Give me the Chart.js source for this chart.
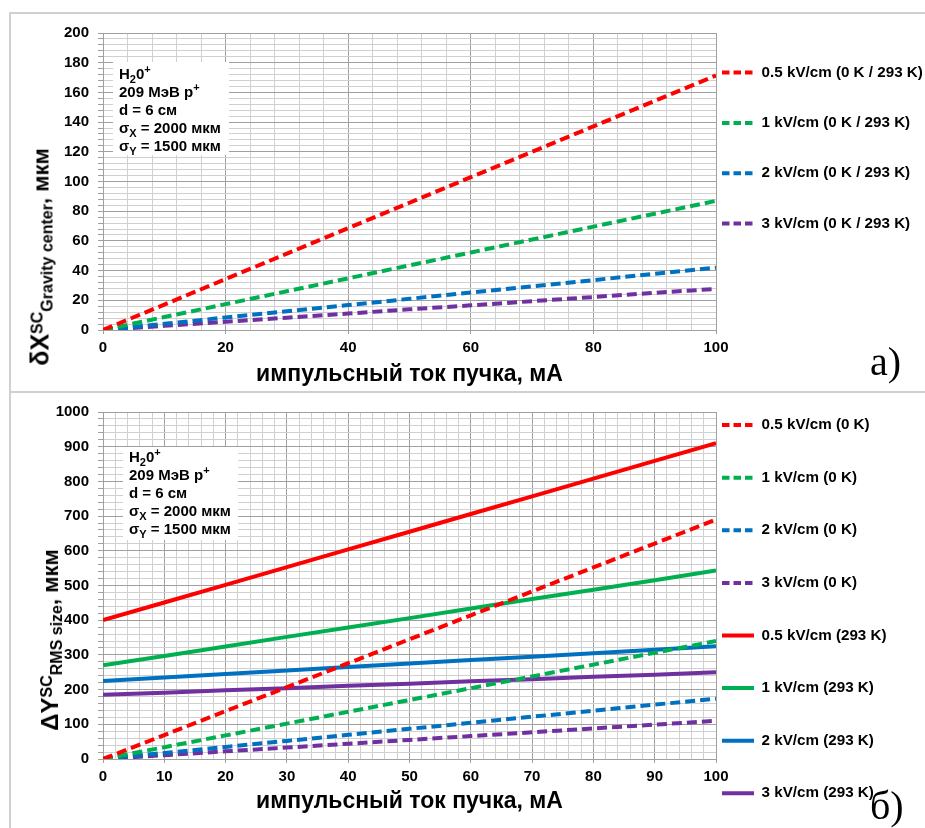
<!DOCTYPE html>
<html>
<head>
<meta charset="utf-8">
<script src="https://cdn.jsdelivr.net/npm/chart.js@4.4.1/dist/chart.umd.min.js"></script>
<style>
body { margin:0; width:925px; height:828px; background:#fff; position:relative; overflow:hidden; font-family:"Liberation Sans", Arial, sans-serif; }
#p1 { position:absolute; left:9px; top:12px; width:930px; height:377px; border-left:2px solid #d0d0d0; border-top:2px solid #d0d0d0; border-bottom:2px solid #d0d0d0; }
#p2 { position:absolute; left:9px; top:393px; width:930px; height:440px; border-left:2px solid #d0d0d0; }
canvas { position:absolute; left:12px; }
.note { position:absolute; background:#fff; font-weight:bold; font-size:15px; line-height:18px; color:#000; box-sizing:border-box; padding-left:6px; white-space:nowrap; }
.note sub, .note sup { font-size:11px; line-height:0; }
.ytitle { position:absolute; white-space:nowrap; font-weight:bold; color:#000; transform:translate(-50%,-50%) rotate(-90deg); }
.ytitle sub, .ytitle sup { font-size:16px; line-height:0; }
.tag { position:absolute; font-family:"Liberation Serif", "Times New Roman", serif; font-size:40px; color:#000; }
</style>
</head>
<body>
<div id="p1"></div>
<div id="p2"></div>
<canvas id="chartTop" width="913" height="375" style="top:15px"></canvas>
<canvas id="chartBottom" width="913" height="434" style="top:394px"></canvas>

<div class="note" style="left:113px;top:62px;width:116px;height:93px;padding-top:3px">
H<sub>2</sub>0<sup>+</sup><br>209 МэВ p<sup>+</sup><br>d = 6 см<br>σ<sub>X</sub> = 2000 мкм<br>σ<sub>Y</sub> = 1500 мкм
</div>
<div class="note" style="left:123px;top:447px;width:115px;height:93px;padding-top:1px">
H<sub>2</sub>0<sup>+</sup><br>209 МэВ p<sup>+</sup><br>d = 6 см<br>σ<sub>X</sub> = 2000 мкм<br>σ<sub>Y</sub> = 1500 мкм
</div>

<div class="ytitle" style="left:40px;top:257px"><span style="font-size:25px">δX</span><sup>SC</sup><sub>Gravity center</sub><span style="font-size:22px">, мкм</span></div>
<div class="ytitle" style="left:50px;top:640px"><span style="font-size:24px">ΔY</span><sup>SC</sup><sub>RMS size</sub><span style="font-size:22px">, мкм</span></div>

<div class="tag" style="left:870px;top:338px">a)</div>
<div class="tag" style="left:870px;top:782px">б)</div>

<script>
// beam current, mA
const currents = [0, 10, 20, 30, 40, 50, 60, 70, 80, 90, 100];

// a) gravity center shift, mkm (0 K / 293 K)
const dx05 = [0, 17.1, 34.3, 51.4, 68.6, 85.7, 102.9, 120, 137.1, 154.3, 171.4];
const dx1 = [0, 8.7, 17.4, 26.1, 34.8, 43.5, 52.2, 60.9, 69.6, 78.3, 87];
const dx2 = [0, 4.2, 8.4, 12.6, 16.8, 21, 25.2, 29.4, 33.6, 37.8, 42];
const dx3 = [0, 2.8, 5.5, 8.3, 11.1, 13.9, 16.6, 19.4, 22.2, 25, 27.7];

// б) RMS size growth, mkm
const dy05cold = [0, 69, 138, 207, 276, 345, 414, 483, 552, 621, 690];
const dy1cold = [0, 34, 68, 102, 136, 170, 204, 238, 272, 306, 340];
const dy2cold = [0, 17.4, 34.8, 52.2, 69.6, 87, 104.4, 121.8, 139.2, 156.6, 174];
const dy3cold = [0, 11, 22, 33, 44, 55, 66, 77, 88, 99, 110];
const dy05warm = [400, 451, 502, 553, 604, 655, 706, 757, 808, 859, 910];
const dy1warm = [270, 297, 324, 352, 379, 406, 434, 461, 488, 515, 543];
const dy2warm = [225, 235, 245, 255, 265, 275, 285, 295, 305, 315, 325];
const dy3warm = [185, 191, 198, 204, 211, 217, 224, 230, 237, 243, 250];

const labelsTop = ["0.5 kV/cm (0 K / 293 K)", "1 kV/cm (0 K / 293 K)", "2 kV/cm (0 K / 293 K)", "3 kV/cm (0 K / 293 K)"];
const labelsBottom = ["0.5 kV/cm (0 K)", "1 kV/cm (0 K)", "2 kV/cm (0 K)", "3 kV/cm (0 K)",
                      "0.5 kV/cm (293 K)", "1 kV/cm (293 K)", "2 kV/cm (293 K)", "3 kV/cm (293 K)"];
const colors = ["#ff0000", "#00b050", "#0070c0", "#7030a0"];

const FONT = "'Liberation Sans', Arial, sans-serif";
const MAJOR = "#a0a0a0";
const MINOR = "#d0d0d0";
const DASH = [10, 5];

Chart.defaults.font.family = FONT;
Chart.defaults.color = "#000";

function pts(ys) {
    return currents.map((x, i) => ({ x: x, y: ys[i] }));
}

function line(label, ys, color, dashed) {
    return {
        label: label,
        data: pts(ys),
        borderColor: color,
        backgroundColor: color,
        borderWidth: 4,
        borderDash: dashed ? DASH : [],
        pointRadius: 0,
        tension: 0,
        fill: false
    };
}

// force the legend column to a fixed width so the plot ends where it should
function legendWidth(w) {
    return {
        id: "legendWidth",
        beforeLayout(chart) {
            const lg = chart.legend;
            if (lg && !lg._fixed) {
                const fit = lg.fit.bind(lg);
                lg.fit = function () { fit(); this.width = w; };
                lg._fixed = true;
            }
        }
    };
}

function legendOpts(titleGap, rowHeight) {
    return {
        position: "right",
        align: "start",
        title: { display: true, text: "", padding: { top: 0, bottom: titleGap }, font: { size: 10, lineHeight: "0px" } },
        labels: {
            usePointStyle: true,
            pointStyle: "line",
            pointStyleWidth: 32,
            padding: 6,
            color: "#000",
            font: { size: 15.2, weight: "bold", lineHeight: rowHeight + "px" },
            generateLabels(chart) {
                return Chart.defaults.plugins.legend.labels.generateLabels(chart).map(item => {
                    const ds = chart.data.datasets[item.datasetIndex];
                    item.text = [item.text];
                    item.lineDash = ds.borderDash.length ? [7.5, 4] : [];
                    item.lineWidth = 4;
                    item.strokeStyle = ds.borderColor;
                    item.pointStyle = "line";
                    return item;
                });
            }
        }
    };
}

function axes(xStep, xMajor, yMax, yStep, yMajor, xHeight, titleBottom) {
    return {
        x: {
            type: "linear",
            min: 0, max: 100,
            afterFit: s => { s.height = xHeight; },
            ticks: {
                stepSize: xStep, autoSkip: false, maxRotation: 0, padding: 5,
                font: { size: 15, weight: "bold" },
                callback: v => (v % xMajor === 0 ? v : "")
            },
            grid: {
                color: c => (c.tick && c.tick.value % xMajor === 0 ? MAJOR : MINOR),
                tickColor: c => (c.tick && c.tick.value % xMajor === 0 ? MAJOR : "rgba(0,0,0,0)"),
                tickLength: 4
            },
            border: { color: MAJOR },
            title: {
                display: true,
                text: "импульсный ток пучка, мА",
                font: { size: 23, weight: "bold", lineHeight: 1.2 },
                padding: { top: 0, bottom: titleBottom }
            }
        },
        y: {
            min: 0, max: yMax,
            afterFit: s => { s.width = 91; },
            ticks: {
                stepSize: yStep, autoSkip: false, padding: 9,
                font: { size: 15, weight: "bold" },
                callback: v => (v % yMajor === 0 ? v : "")
            },
            grid: {
                color: c => (c.tick && c.tick.value % yMajor === 0 ? MAJOR : MINOR),
                tickColor: MAJOR,
                tickLength: 5
            },
            border: { color: MAJOR }
        }
    };
}

new Chart(document.getElementById("chartTop"), {
    type: "line",
    data: {
        datasets: [
            line(labelsTop[0], dx05, colors[0], true),
            line(labelsTop[1], dx1, colors[1], true),
            line(labelsTop[2], dx2, colors[2], true),
            line(labelsTop[3], dx3, colors[3], true)
        ]
    },
    options: {
        responsive: false,
        animation: false,
        layout: { padding: { top: 13, left: 0, right: 0, bottom: 0 } },
        scales: axes(4, 20, 200, 4, 20, 60, 2),
        plugins: {
            legend: legendOpts(31, 44.3),
            tooltip: { enabled: false }
        }
    },
    plugins: [legendWidth(209)]
});

new Chart(document.getElementById("chartBottom"), {
    type: "line",
    data: {
        datasets: [
            line(labelsBottom[0], dy05cold, colors[0], true),
            line(labelsBottom[1], dy1cold, colors[1], true),
            line(labelsBottom[2], dy2cold, colors[2], true),
            line(labelsBottom[3], dy3cold, colors[3], true),
            line(labelsBottom[4], dy05warm, colors[0], false),
            line(labelsBottom[5], dy1warm, colors[1], false),
            line(labelsBottom[6], dy2warm, colors[2], false),
            line(labelsBottom[7], dy3warm, colors[3], false)
        ]
    },
    options: {
        responsive: false,
        animation: false,
        layout: { padding: { top: 12.5, left: 0, right: 0, bottom: 0 } },
        scales: axes(2, 10, 1000, 20, 100, 69, 13),
        plugins: {
            legend: legendOpts(5, 46.6),
            tooltip: { enabled: false }
        }
    },
    plugins: [legendWidth(209)]
});
</script>
</body>
</html>
